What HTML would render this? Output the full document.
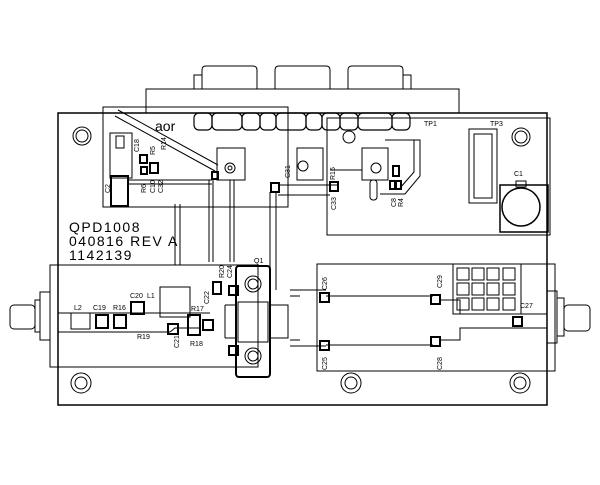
<!DOCTYPE html>
<html><head><meta charset="utf-8"><style>
html,body{margin:0;padding:0;background:#fff;}
svg{display:block;}
text{font-family:"Liberation Sans",sans-serif;fill:#000;}
</style></head><body>
<svg width="600" height="485" viewBox="0 0 600 485" xmlns="http://www.w3.org/2000/svg" fill="none" stroke="#000" stroke-width="1">
<path d="M202 89 V70 Q202 66 206 66 H253 Q257 66 257 70 V89"/>
<path d="M275 89 V70 Q275 66 279 66 H326 Q330 66 330 70 V89"/>
<path d="M348 89 V70 Q348 66 352 66 H399 Q403 66 403 70 V89"/>
<rect x="194" y="75" width="8" height="14"/>
<rect x="403" y="75" width="8" height="14"/>
<rect x="146" y="89" width="313" height="24"/>
<rect x="58" y="113" width="489" height="292" stroke-width="1.5"/>
<rect x="103" y="107" width="185" height="100"/>
<rect x="327" y="118" width="223" height="117"/>
<g stroke-width="1.2">
<rect x="194" y="113" width="18" height="17" rx="5"/>
<rect x="212" y="113" width="30" height="17" rx="5"/>
<rect x="242" y="113" width="18" height="17" rx="5"/>
<rect x="260" y="113" width="16" height="17" rx="5"/>
<rect x="276" y="113" width="30" height="17" rx="5"/>
<rect x="306" y="113" width="16" height="17" rx="5"/>
<rect x="322" y="113" width="18" height="17" rx="5"/>
<rect x="340" y="113" width="18" height="17" rx="5"/>
<rect x="358" y="113" width="34" height="17" rx="5"/>
<rect x="392" y="113" width="18" height="17" rx="5"/>
</g>
<text x="155" y="131" font-size="14" stroke="none">aor</text>
<path d="M118 110 L218 165 M115 116 L215 171"/>
<rect x="110" y="133" width="22" height="45"/>
<rect x="116" y="136" width="8" height="12"/>
<rect x="111" y="176" width="17" height="30" stroke-width="2"/>
<rect x="217" y="148" width="28" height="32"/>
<circle cx="230" cy="168" r="5"/><circle cx="230" cy="168" r="2"/>
<rect x="297" y="148" width="26" height="32"/>
<circle cx="303" cy="166" r="5"/>
<rect x="362" y="148" width="26" height="32"/>
<circle cx="376" cy="168" r="5"/>
<circle cx="349" cy="137" r="6"/>
<rect x="370" y="180" width="7" height="20" rx="3"/>
<g stroke-width="2">
<rect x="140" y="155" width="7" height="8"/><rect x="150" y="163" width="8" height="10"/>
<rect x="141" y="167" width="6" height="7"/><rect x="212" y="172" width="6" height="7"/>
<rect x="271" y="183" width="8" height="9"/><rect x="330" y="182" width="8" height="9"/>
<rect x="393" y="166" width="6" height="10"/><rect x="390" y="181" width="5" height="8"/><rect x="396" y="181" width="5" height="8"/>
</g>
<path d="M128 180 H212 M128 184 H212 M175 204 V265 M180 204 V265 M209 180 V262 M213 180 V262 M230 180 V262 M234 180 V262 M270 192 V290 M276 192 V290 M278 185 H338 M278 195 H330 M330 170 H362"/>
<path d="M392 140 H420 V176 L405 194 H380 M385 140 H414 V172 L400 188"/>
<rect x="469" y="129" width="28" height="74"/>
<rect x="474" y="134" width="18" height="64"/>
<text x="490" y="126" font-size="7" stroke="none">TP3</text>
<text x="424" y="126" font-size="7" stroke="none">TP1</text>
<circle cx="521" cy="137" r="9"/><circle cx="521" cy="137" r="6"/>
<path d="M500 185 H548 V232 H500 Z" stroke-width="1.5"/>
<circle cx="521" cy="207" r="19" stroke-width="1.5"/>
<rect x="516" y="181" width="10" height="6"/>
<text x="514" y="176" font-size="7" stroke="none">C1</text>
<circle cx="82" cy="136" r="9"/><circle cx="82" cy="136" r="6"/>
<circle cx="81" cy="383" r="10"/><circle cx="81" cy="383" r="6"/>
<circle cx="351" cy="383" r="10"/><circle cx="351" cy="383" r="6"/>
<circle cx="520" cy="383" r="10"/><circle cx="520" cy="383" r="6"/>
<text x="69" y="232" font-size="14" letter-spacing="1.5" stroke="none">QPD1008</text>
<text x="69" y="246" font-size="14" letter-spacing="1.5" stroke="none">040816 REV A</text>
<text x="69" y="260" font-size="14" letter-spacing="1.5" stroke="none">1142139</text>
<rect x="50" y="265" width="208" height="102"/>
<path d="M58 313 H210 M58 332 H170 M170 332 L175 328 H200"/>
<rect x="71" y="313" width="19" height="16"/>
<rect x="96" y="315" width="12" height="13" stroke-width="2"/>
<rect x="114" y="315" width="12" height="13" stroke-width="2"/>
<rect x="131" y="302" width="13" height="12" stroke-width="2"/>
<rect x="160" y="287" width="30" height="30"/>
<rect x="168" y="324" width="10" height="10" stroke-width="2"/>
<rect x="188" y="315" width="12" height="20" stroke-width="2"/>
<rect x="203" y="320" width="10" height="10" stroke-width="2"/>
<rect x="213" y="282" width="8" height="12" stroke-width="2"/>
<rect x="229" y="286" width="9" height="9" stroke-width="2"/>
<rect x="229" y="346" width="9" height="9" stroke-width="2"/>
<text x="74" y="310" font-size="7" stroke="none">L2</text>
<text x="93" y="310" font-size="7" stroke="none">C19</text>
<text x="113" y="310" font-size="7" stroke="none">R16</text>
<text x="130" y="298" font-size="7" stroke="none">C20</text>
<text x="147" y="298" font-size="7" stroke="none">L1</text>
<text x="191" y="311" font-size="7" stroke="none">R17</text>
<text x="137" y="339" font-size="7" stroke="none">R19</text>
<text x="190" y="346" font-size="7" stroke="none">R18</text>
<text x="254" y="263" font-size="7" stroke="none">Q1</text>
<rect x="236" y="266" width="34" height="111" rx="3" stroke-width="2"/>
<rect x="238" y="302" width="30" height="40"/>
<circle cx="253" cy="284" r="8"/><circle cx="253" cy="284" r="5"/>
<circle cx="253" cy="356" r="8"/><circle cx="253" cy="356" r="5"/>
<path d="M225 305 H236 M225 338 H236 M225 305 V338 M270 305 H288 V338 H270"/>
<rect x="40" y="292" width="10" height="48"/>
<rect x="35" y="300" width="5" height="32"/>
<rect x="10" y="305" width="25" height="24" rx="4"/>
<rect x="317" y="264" width="238" height="107"/>
<path d="M290 290 H326 M290 346 H326 M326 296 H433 M326 345 H433 M440 300 H460 V314 H547 M440 340 H460 V328 H547 M290 296 H300 M290 340 H300"/>
<g stroke-width="2">
<rect x="320" y="293" width="9" height="9"/><rect x="320" y="341" width="9" height="9"/>
<rect x="431" y="295" width="9" height="9"/><rect x="431" y="337" width="9" height="9"/>
<rect x="513" y="317" width="9" height="9"/>
</g>
<rect x="453" y="264" width="68" height="50"/>
<g>
<rect x="457" y="268" width="12" height="12"/><rect x="472" y="268" width="12" height="12"/><rect x="487" y="268" width="12" height="12"/><rect x="503" y="268" width="12" height="12"/>
<rect x="457" y="283" width="12" height="12"/><rect x="472" y="283" width="12" height="12"/><rect x="487" y="283" width="12" height="12"/><rect x="503" y="283" width="12" height="12"/>
<rect x="457" y="298" width="12" height="12"/><rect x="472" y="298" width="12" height="12"/><rect x="487" y="298" width="12" height="12"/><rect x="503" y="298" width="12" height="12"/>
</g>
<text x="520" y="308" font-size="7" stroke="none">C27</text>
<rect x="547" y="291" width="10" height="52"/>
<rect x="557" y="298" width="7" height="38"/>
<rect x="564" y="305" width="26" height="26" rx="4"/>
<g font-size="7" stroke="none" fill="#000">
<text transform="translate(327,290) rotate(-90)" stroke="none">C26</text>
<text transform="translate(442,288) rotate(-90)" stroke="none">C29</text>
<text transform="translate(327,370) rotate(-90)" stroke="none">C25</text>
<text transform="translate(442,370) rotate(-90)" stroke="none">C28</text>
<text transform="translate(232,278) rotate(-90)" stroke="none">C24</text>
<text transform="translate(224,278) rotate(-90)" stroke="none">R20</text>
<text transform="translate(209,304) rotate(-90)" stroke="none">C22</text>
<text transform="translate(179,348) rotate(-90)" stroke="none">C21</text>
<text transform="translate(290,178) rotate(-90)" stroke="none">C31</text>
<text transform="translate(335,180) rotate(-90)" stroke="none">R15</text>
<text transform="translate(336,210) rotate(-90)" stroke="none">C33</text>
<text transform="translate(396,207) rotate(-90)" stroke="none">C8</text>
<text transform="translate(403,207) rotate(-90)" stroke="none">R4</text>
<text transform="translate(139,152) rotate(-90)" stroke="none">C18</text>
<text transform="translate(155,155) rotate(-90)" stroke="none">R5</text>
<text transform="translate(166,150) rotate(-90)" stroke="none">R14</text>
<text transform="translate(146,193) rotate(-90)" stroke="none">R6</text>
<text transform="translate(155,193) rotate(-90)" stroke="none">C10</text>
<text transform="translate(163,193) rotate(-90)" stroke="none">C32</text>
<text transform="translate(110,193) rotate(-90)" stroke="none">C2</text>
</g>
</svg>
</body></html>
